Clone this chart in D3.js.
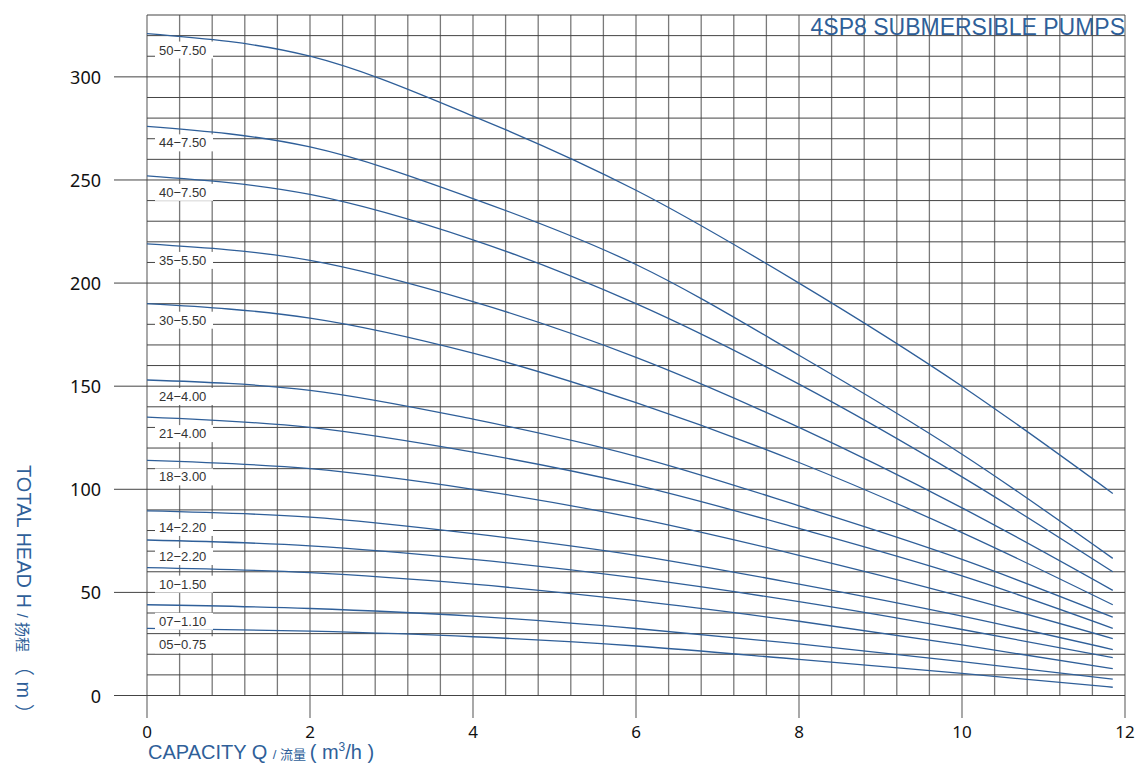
<!DOCTYPE html>
<html>
<head>
<meta charset="utf-8">
<script src="https://cdn.jsdelivr.net/npm/d3@7"></script>
<style>
  html, body { margin: 0; padding: 0; background: #fff; }
  svg { display: block; }
</style>
</head>
<body>
<div id="container"></div>
<script>
// Pump models (stages - motor kW), top to bottom
const models = ["50-7.50", "44-7.50", "40-7.50", "35-5.50", "30-5.50", "24-4.00", "21-4.00",
  "18-3.00", "14-2.20", "12-2.20", "10-1.50", "07-1.10", "05-0.75"]

// flow points, m3/h
const flow = [0, 2, 4, 6, 8, 10, 11.85]

// head (m) of each model at the flow points above
const head50 = [321, 310, 281, 245, 200, 150, 98]
const head44 = [276, 266, 241, 209, 165, 117, 66.5]
const head40 = [252, 243, 221, 190, 151, 106, 60]
const head35 = [219, 211, 191, 164, 130, 91, 51]
const head30 = [190, 183, 166, 142, 113, 79, 44]
const head24 = [153, 148, 134, 116, 92, 66, 38]
const head21 = [135, 130, 118, 102, 81, 58, 32.6]
const head18 = [114, 110, 100, 86, 68, 48, 27.6]
const head14 = [89.5, 86.5, 78.5, 68, 54, 38.5, 22.3]
const head12 = [75.4, 72.6, 66, 57, 45.5, 32, 18.4]
const head10 = [62, 59.6, 54, 46, 36, 24.5, 13]
const head07 = [44, 42.2, 38.5, 32.5, 25, 16.4, 7.9]
const head05 = [32.6, 31.2, 28.5, 24, 17.5, 10.7, 4]

const heads = [head50, head44, head40, head35, head30, head24, head21,
  head18, head14, head12, head10, head07, head05]

const xTicks = [0, 2, 4, 6, 8, 10, 12]
const yTicks = [0, 50, 100, 150, 200, 250, 300]

const width = 1135
const height = 764
const blue = "#2f5f99"

const svg = d3.create("svg")
  .attr("width", width)
  .attr("height", height)
container.append(svg.node())

const x = d3.scaleLinear().domain([0, 12]).range([147, 1125])
const y = d3.scaleLinear().domain([0, 330]).range([695.5, 15])

// grid
const grid = svg.append("g")
const vLines = d3.range(0, 12.001, 0.4)
const hLines = d3.range(0, 330.001, 10)

grid.selectAll(".v")
  .data(vLines)
  .join("line")
  .attr("class", "v")
  .attr("x1", d => x(d)).attr("x2", d => x(d))
  .attr("y1", y(330))
  .attr("y2", d => Math.abs(d / 2 - Math.round(d / 2)) < 1e-6 ? 718 : y(0))
  .style("stroke", "#7a7a7a")
  .style("stroke-width", 1.3)

grid.selectAll(".h")
  .data(hLines)
  .join("line")
  .attr("class", "h")
  .attr("x1", d => d % 50 === 0 ? 114 : x(0))
  .attr("x2", x(12))
  .attr("y1", d => y(d)).attr("y2", d => y(d))
  .style("stroke", "#444")
  .style("stroke-width", 1)

// tick labels
svg.append("g").selectAll("text")
  .data(yTicks)
  .join("text")
  .attr("x", 101)
  .attr("y", d => y(d) + 7)
  .attr("text-anchor", "end")
  .style("font-family", "'Noto Sans', sans-serif")
  .style("font-size", "18px")
  .style("fill", "#111")
  .text(d => d)

svg.append("g").selectAll("text")
  .data(xTicks)
  .join("text")
  .attr("x", d => x(d))
  .attr("y", 738)
  .attr("text-anchor", "middle")
  .style("font-family", "'Noto Sans', sans-serif")
  .style("font-size", "17px")
  .style("fill", "#111")
  .text(d => d)

// curves
const line = d3.line()
  .x((d, i) => x(flow[i]))
  .y(d => y(d))
  .curve(d3.curveMonotoneX)

svg.append("g").selectAll("path")
  .data(heads)
  .join("path")
  .attr("d", d => line(d))
  .style("fill", "none")
  .style("stroke", blue)
  .style("stroke-width", 1.3)

// model labels
const labels = svg.append("g").selectAll("g")
  .data(models)
  .join("g")
  .attr("transform", (d, i) => `translate(0,${y(heads[i][0]) + 21})`)

labels.append("rect")
  .attr("x", 155)
  .attr("y", -13)
  .attr("width", 58)
  .attr("height", 17)
  .style("fill", "#fff")

labels.append("text")
  .attr("x", 159)
  .attr("y", 0)
  .style("font-family", "'Liberation Sans', Arial, sans-serif")
  .style("font-size", "13px")
  .style("fill", "#333")
  .text(d => d.replace("-", "\u2212"))

// title
svg.append("text")
  .attr("x", 1125)
  .attr("y", 35)
  .attr("text-anchor", "end")
  .style("font-family", "'Liberation Sans', Arial, sans-serif")
  .style("font-size", "23px")
  .style("fill", blue)
  .text("4SP8 SUBMERSIBLE PUMPS")

// axis titles
const xTitle = svg.append("text")
  .attr("x", 148)
  .attr("y", 759)
  .style("font-family", "'Liberation Sans', 'Noto Sans CJK SC', sans-serif")
  .style("font-size", "20px")
  .style("fill", blue)
xTitle.append("tspan").text("CAPACITY Q ")
xTitle.append("tspan").style("font-size", "13px").text("/ 流量 ")
xTitle.append("tspan").text("( m")
xTitle.append("tspan").style("font-size", "12px").attr("dy", -8).text("3")
xTitle.append("tspan").attr("dy", 8).text("/h )")

const yTitle = svg.append("text")
  .attr("transform", "translate(17,465) rotate(90)")
  .style("font-family", "'Liberation Sans', 'Noto Sans CJK SC', sans-serif")
  .style("font-size", "20px")
  .style("fill", blue)
yTitle.append("tspan").text("TOTAL HEAD H ")
yTitle.append("tspan").style("font-size", "15px").text("/ 扬程 ")
yTitle.append("tspan").text("（ m ）")
</script>
</body>
</html>
